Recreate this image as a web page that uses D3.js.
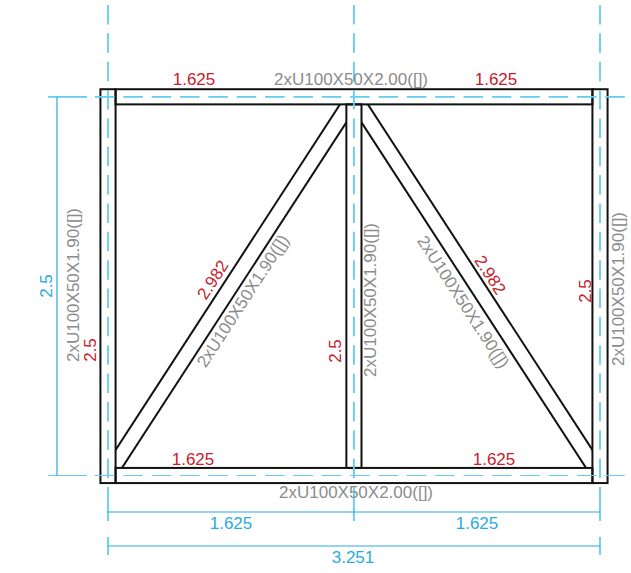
<!DOCTYPE html>
<html>
<head>
<meta charset="utf-8">
<script src="https://cdn.jsdelivr.net/npm/d3@7"></script>
<style>
  html, body { margin: 0; padding: 0; background: #fff; }
  svg { display: block; }
  text { font-family: "Liberation Sans", Arial, sans-serif; font-size: 17px; text-anchor: middle; dominant-baseline: central; }
</style>
</head>
<body>
<div id="chart"></div>
<script>
// Frame data, metres
const gridX = [0, 1.625, 3.251];
const gridY = [0, 2.5];
const sectionDepth = 0.1;

const beamLabel = "2xU100X50X2.00([])";
const postLabel = "2xU100X50X1.90([])";
const bayLabels = ["1.625", "1.625"];
const totalLabel = "3.251";
const heightLabel = "2.5";
const braceLabel = "2.982";

// Constants
const width = 631;
const height = 573;

const svg = d3.select("#chart").append("svg").attr("width", width).attr("height", height);

//-----------------------------SCALES-----------------------------//
const x = d3.scaleLinear().domain([0, 3.251]).range([108, 600]);
const y = d3.scaleLinear().domain([0, 2.5]).range([475.5, 96.8]);

const hw = sectionDepth / 2;
const xL = gridX[0], xM = gridX[1], xR = gridX[2];
const yB = gridY[0], yT = gridY[1];

//-----------------------------COLOURS----------------------------//
const cyan = "#62cdf0";
const blue = "#29abe2";
const red = "#c8202c";
const grey = "#8c8c8c";

//-----------------------------MEMBERS----------------------------//
const rects = [
  { x0: xL - hw, x1: xL + hw, y0: yB - hw, y1: yT + hw },
  { x0: xR - hw, x1: xR + hw, y0: yB - hw, y1: yT + hw },
  { x0: xM - hw, x1: xM + hw, y0: yB + hw, y1: yT - hw },
  { x0: xL + hw, x1: xR - hw, y0: yT - hw, y1: yT + hw },
  { x0: xL + hw, x1: xR - hw, y0: yB - hw, y1: yB + hw },
];

svg.append("g").selectAll("rect").data(rects).enter().append("rect")
  .attr("x", d => x(d.x0))
  .attr("y", d => y(d.y1))
  .attr("width", d => x(d.x1) - x(d.x0))
  .attr("height", d => y(d.y0) - y(d.y1))
  .attr("fill", "none")
  .attr("stroke", "#111")
  .attr("stroke-width", 2);

// braces run node to node, clipped to the bay they sit in
const braces = [
  { id: "bay-left", from: [xL, yB], to: [xM, yT], x0: xL + hw, x1: xM - hw },
  { id: "bay-right", from: [xR, yB], to: [xM, yT], x0: xM + hw, x1: xR - hw },
];

const defs = svg.append("defs");
braces.forEach(b => {
  defs.append("clipPath").attr("id", b.id).append("rect")
    .attr("x", x(b.x0))
    .attr("y", y(yT - hw))
    .attr("width", x(b.x1) - x(b.x0))
    .attr("height", y(yB + hw) - y(yT - hw));

  const ax = x(b.from[0]), ay = y(b.from[1]), bx = x(b.to[0]), by = y(b.to[1]);
  const len = Math.hypot(bx - ax, by - ay);
  const off = x(hw) - x(0);
  const nx = -(by - ay) / len * off, ny = (bx - ax) / len * off;
  [1, -1].forEach(s => {
    svg.append("line")
      .attr("clip-path", `url(#${b.id})`)
      .attr("x1", ax + s * nx).attr("y1", ay + s * ny)
      .attr("x2", bx + s * nx).attr("y2", by + s * ny)
      .attr("stroke", "#111")
      .attr("stroke-width", 2);
  });
});

//-----------------------------AXES-------------------------------//
const dash = "19.5 8.85";

// dashed grid through the frame, solid extension stubs outside it
gridX.forEach(g => {
  svg.append("line")
    .attr("x1", x(g)).attr("x2", x(g)).attr("y1", 5).attr("y2", 480)
    .attr("stroke", cyan).attr("stroke-width", 1.8).attr("stroke-dasharray", dash);
  svg.append("line")
    .attr("x1", x(g)).attr("x2", x(g)).attr("y1", 487).attr("y2", 521)
    .attr("stroke", cyan).attr("stroke-width", 1.8);
});
[xL, xR].forEach(g => {
  svg.append("line")
    .attr("x1", x(g)).attr("x2", x(g)).attr("y1", 537).attr("y2", 555)
    .attr("stroke", cyan).attr("stroke-width", 1.8);
});
gridY.forEach((g, i) => {
  const w = i === 0 ? 1.2 : 1.7;
  svg.append("line")
    .attr("x1", 95).attr("x2", 625).attr("y1", y(g)).attr("y2", y(g))
    .attr("stroke", cyan).attr("stroke-width", w).attr("stroke-dasharray", dash);
  svg.append("line")
    .attr("x1", 48).attr("x2", 87).attr("y1", y(g)).attr("y2", y(g))
    .attr("stroke", cyan).attr("stroke-width", w);
});

//-----------------------------DIMENSIONS-------------------------//
const dimLines = [
  { x1: x(xL), x2: x(xR), y1: 512, y2: 512 },
  { x1: x(xL), x2: x(xR), y1: 546, y2: 546 },
  { x1: 57, x2: 57, y1: y(yT), y2: y(yB) },
];
svg.append("g").selectAll("line").data(dimLines).enter().append("line")
  .attr("x1", d => d.x1).attr("x2", d => d.x2)
  .attr("y1", d => d.y1).attr("y2", d => d.y2)
  .attr("stroke", blue).attr("stroke-width", 1.2);

//-----------------------------LABELS-----------------------------//
const braceAngle = Math.atan2(y(yB) - y(yT), x(xM) - x(xL)) * 180 / Math.PI;

const labels = [
  { t: bayLabels[0], cx: 194, cy: 79, c: red },
  { t: bayLabels[1], cx: 496, cy: 79, c: red },
  { t: beamLabel, cx: 351, cy: 79, c: grey },
  { t: bayLabels[0], cx: 193, cy: 459, c: red },
  { t: bayLabels[1], cx: 494, cy: 459, c: red },
  { t: beamLabel, cx: 356, cy: 492, c: grey },
  { t: bayLabels[0], cx: 231, cy: 523, c: blue },
  { t: bayLabels[1], cx: 477, cy: 523, c: blue },
  { t: totalLabel, cx: 353, cy: 557, c: blue },
  { t: heightLabel, cx: 46, cy: 286, c: blue, r: -90 },
  { t: heightLabel, cx: 90, cy: 350, c: red, r: -90 },
  { t: heightLabel, cx: 335, cy: 351, c: red, r: -90 },
  { t: heightLabel, cx: 585, cy: 291, c: red, r: -90 },
  { t: postLabel, cx: 73, cy: 285, c: grey, r: -90 },
  { t: postLabel, cx: 370, cy: 300, c: grey, r: -90 },
  { t: postLabel, cx: 618, cy: 289, c: grey, r: -90 },
  { t: braceLabel, cx: 213, cy: 280, c: red, r: -braceAngle },
  { t: braceLabel, cx: 490, cy: 275, c: red, r: braceAngle },
  { t: postLabel, cx: 243, cy: 301, c: grey, r: -braceAngle },
  { t: postLabel, cx: 463, cy: 302, c: grey, r: braceAngle },
];

svg.append("g").selectAll("text").data(labels).enter().append("text")
  .attr("transform", d => `translate(${d.cx},${d.cy}) rotate(${d.r || 0})`)
  .attr("fill", d => d.c)
  .text(d => d.t);
</script>
</body>
</html>
